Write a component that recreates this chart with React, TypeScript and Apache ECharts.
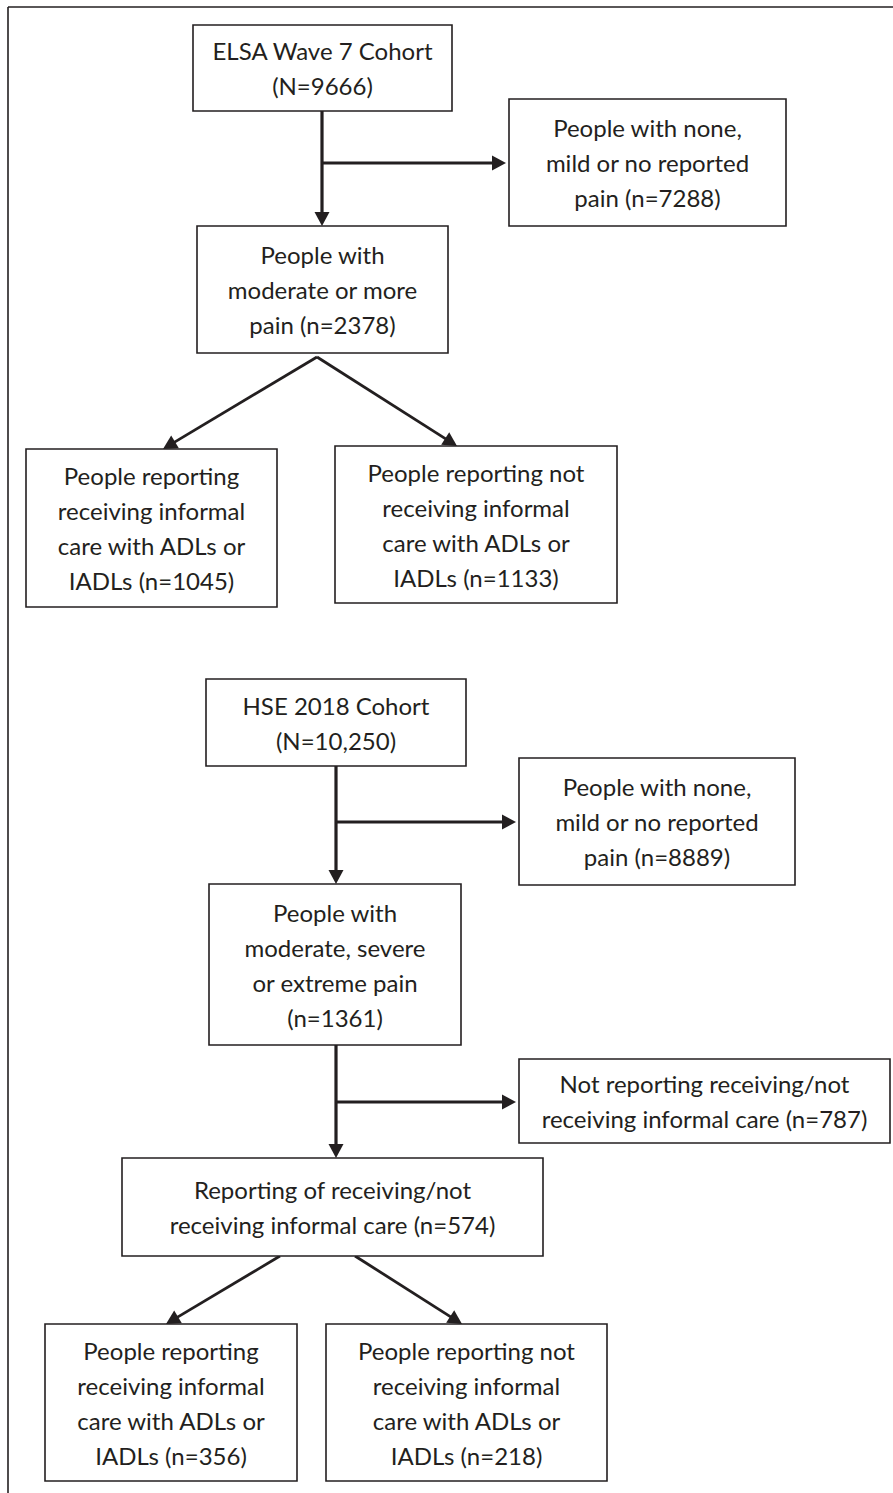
import React, { useEffect, useRef } from "react";
import * as echarts from "echarts";

// ---- Data: flowchart node texts ----
const elsaNodes: string[] = [
  "ELSA Wave 7 Cohort\n(N=9666)",
  "People with none,\nmild or no reported\npain (n=7288)",
  "People with\nmoderate or more\npain (n=2378)",
  "People reporting\nreceiving informal\ncare with ADLs or\nIADLs (n=1045)",
  "People reporting not\nreceiving informal\ncare with ADLs or\nIADLs (n=1133)",
];
const hseNodes: string[] = [
  "HSE 2018 Cohort\n(N=10,250)",
  "People with none,\nmild or no reported\npain (n=8889)",
  "People with\nmoderate, severe\nor extreme pain\n(n=1361)",
  "Not reporting receiving/not\nreceiving informal care (n=787)",
  "Reporting of receiving/not\nreceiving informal care (n=574)",
  "People reporting\nreceiving informal\ncare with ADLs or\nIADLs (n=356)",
  "People reporting not\nreceiving informal\ncare with ADLs or\nIADLs (n=218)",
];

// ---- Layout (positions only) ----
type Box = { x: number; y: number; w: number; h: number };
const elsaBoxes: Box[] = [
  { x: 193, y: 25, w: 259, h: 86 },
  { x: 509, y: 99, w: 277, h: 127 },
  { x: 197, y: 226, w: 251, h: 127 },
  { x: 26, y: 449, w: 251, h: 158 },
  { x: 335, y: 446, w: 282, h: 157 },
];
const hseBoxes: Box[] = [
  { x: 206, y: 679, w: 260, h: 87 },
  { x: 519, y: 758, w: 276, h: 127 },
  { x: 209, y: 884, w: 252, h: 161 },
  { x: 519, y: 1059, w: 371, h: 84 },
  { x: 122, y: 1158, w: 421, h: 98 },
  { x: 45, y: 1324, w: 252, h: 157 },
  { x: 326, y: 1324, w: 281, h: 157 },
];

const INK = "#231f20";
const FONT_FAMILY = "Lato, 'Open Sans', sans-serif";
const FONT_SIZE = 24;

function boxElements(b: Box, text: string): any[] {
  return [
    {
      type: "rect",
      shape: { x: b.x, y: b.y, width: b.w, height: b.h },
      style: { fill: "#fff", stroke: INK, lineWidth: 1.6 },
    },
    {
      type: "text",
      x: b.x + b.w / 2,
      y: b.y + b.h / 2,
      style: {
        text,
        align: "center",
        verticalAlign: "middle",
        fontFamily: FONT_FAMILY,
        fontSize: FONT_SIZE,
        lineHeight: 35,
        fill: INK,
      },
    },
  ];
}

function arrow(x1: number, y1: number, x2: number, y2: number, lw = 3.2): any[] {
  const dx = x2 - x1;
  const dy = y2 - y1;
  const len = Math.sqrt(dx * dx + dy * dy);
  const ux = dx / len;
  const uy = dy / len;
  const headLen = 14;
  const headHalf = 7.5;
  const bx = x2 - ux * headLen;
  const by = y2 - uy * headLen;
  return [
    {
      type: "line",
      shape: { x1, y1, x2: bx + ux * 2, y2: by + uy * 2 },
      style: { stroke: INK, lineWidth: lw },
    },
    {
      type: "polygon",
      shape: {
        points: [
          [x2, y2],
          [bx - uy * headHalf, by + ux * headHalf],
          [bx + uy * headHalf, by - ux * headHalf],
        ],
      },
      style: { fill: INK },
    },
  ];
}

function line(x1: number, y1: number, x2: number, y2: number, lw = 3): any {
  return { type: "line", shape: { x1, y1, x2, y2 }, style: { stroke: INK, lineWidth: lw } };
}

export default function App() {
  const ref = useRef<HTMLDivElement>(null);
  useEffect(() => {
    document.body.style.margin = "0";
    if (!ref.current) return;
    const chart = echarts.init(ref.current, undefined, { renderer: "svg" });
    const els: any[] = [];
    // outer frame (top and left edges visible)
    els.push(line(8, 7, 893, 7, 1.6));
    els.push(line(8, 7, 8, 1493, 1.6));

    // ELSA flow
    const E = elsaBoxes;
    const ex = 322;
    els.push(...arrow(ex, E[0].y + E[0].h, ex, E[2].y));
    els.push(...arrow(ex, 163, E[1].x - 3, 163));
    els.push(...arrow(317, E[2].y + E[2].h + 4, 163, E[3].y, 2.8));
    els.push(...arrow(317, E[2].y + E[2].h + 4, 457, E[4].y, 2.8));

    // HSE flow
    const H = hseBoxes;
    const hx = 336;
    els.push(...arrow(hx, H[0].y + H[0].h, hx, H[2].y));
    els.push(...arrow(hx, 822, H[1].x - 3, 822));
    els.push(...arrow(hx, H[2].y + H[2].h, hx, H[4].y));
    els.push(...arrow(hx, 1102, H[3].x - 3, 1102));
    els.push(...arrow(280, H[4].y + H[4].h, 166, H[5].y, 2.8));
    els.push(...arrow(355, H[4].y + H[4].h, 462, H[6].y, 2.8));

    elsaNodes.forEach((t, i) => els.push(...boxElements(E[i], t)));
    hseNodes.forEach((t, i) => els.push(...boxElements(H[i], t)));

    chart.setOption({
      animation: false,
      backgroundColor: "#ffffff",
      graphic: { elements: els },
    });
    return () => chart.dispose();
  }, []);
  return <div ref={ref} style={{ width: 893, height: 1493 }} />;
}
